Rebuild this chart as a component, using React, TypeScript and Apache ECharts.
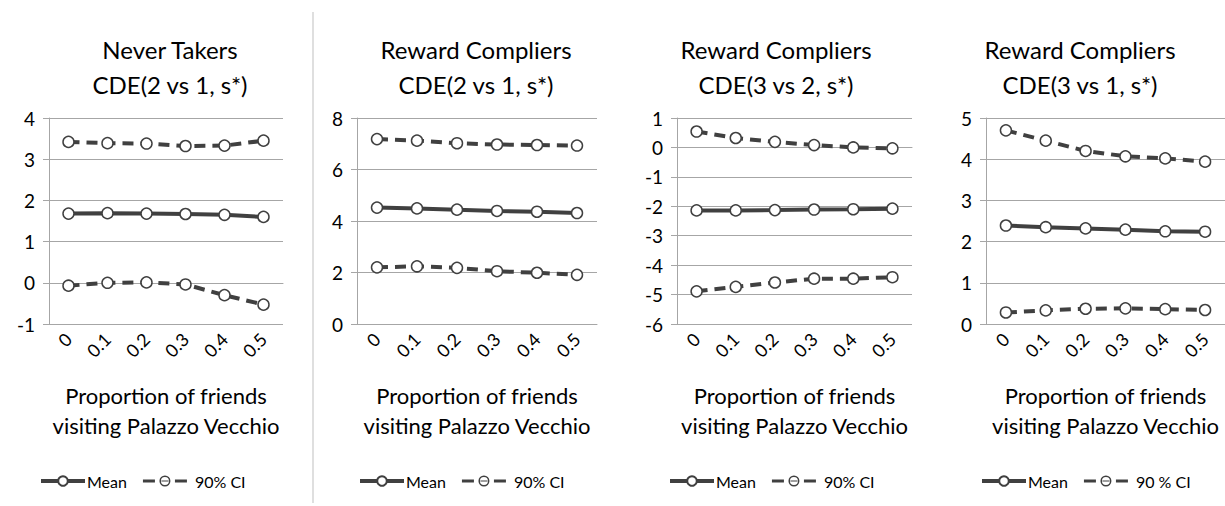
import React, { useEffect, useRef } from "react";
import * as echarts from "echarts";

const categories = ["0", "0.1", "0.2", "0.3", "0.4", "0.5"];

const titles = [
  "Never Takers\nCDE(2 vs 1, s*)",
  "Reward Compliers\nCDE(2 vs 1, s*)",
  "Reward Compliers\nCDE(3 vs 2, s*)",
  "Reward Compliers\nCDE(3 vs 1, s*)",
];

const meanNT21 = [1.68, 1.69, 1.68, 1.67, 1.65, 1.6];
const lowerNT21 = [-0.07, 0.0, 0.01, -0.04, -0.3, -0.53];
const upperNT21 = [3.42, 3.39, 3.38, 3.32, 3.33, 3.45];

const meanRC21 = [4.52, 4.49, 4.44, 4.39, 4.36, 4.31];
const lowerRC21 = [2.2, 2.24, 2.18, 2.05, 1.99, 1.91];
const upperRC21 = [7.18, 7.12, 7.02, 6.97, 6.95, 6.93];

const meanRC32 = [-2.14, -2.14, -2.13, -2.11, -2.1, -2.08];
const lowerRC32 = [-4.89, -4.74, -4.59, -4.46, -4.46, -4.41];
const upperRC32 = [0.54, 0.32, 0.19, 0.08, 0.0, -0.03];

const meanRC31 = [2.39, 2.35, 2.32, 2.29, 2.25, 2.24];
const lowerRC31 = [0.28, 0.33, 0.37, 0.38, 0.36, 0.34];
const upperRC31 = [4.7, 4.45, 4.2, 4.07, 4.02, 3.94];

const yMins = [-1, 0, -6, 0];
const yMaxs = [4, 8, 1, 5];
const yIntervals = [1, 2, 1, 1];

const ciNames = ["90% CI", "90% CI", "90% CI", "90 % CI"];
const meanName = "Mean";

const panelData = [
  [meanNT21, lowerNT21, upperNT21],
  [meanRC21, lowerRC21, upperRC21],
  [meanRC32, lowerRC32, upperRC32],
  [meanRC31, lowerRC31, upperRC31],
];

const FONT = "Lato";
const LINE = "#404040";
const GRID = "#a6a6a6";

// dashed legend icon: dash, ring with bar, dash (44 x 12 box)
const CI_ICON =
  "path://M0 0h0.01v0.01H0z M44 12h-0.01v-0.01H44z " +
  "M0 4.5h12v3H0z M32 4.5h12v3H32z " +
  "M27.5 6A5.5 5.5 0 1 0 16.5 6A5.5 5.5 0 1 0 27.5 6Z M26 6A4 4 0 1 1 18 6A4 4 0 1 1 26 6Z " +
  "M18.5 5.4h7v1.2h-7z";

// layout (pixels)
const gridLefts = [49, 357, 677, 986];
const gridWidths = [234, 240, 235, 239];
const titleCenters = [165, 471, 771, 1075];
const legendLefts = [34, 353, 663, 975];

export default function App() {
  const ref = useRef<HTMLDivElement>(null);
  useEffect(() => {
    if (!ref.current) return;
    const chart = echarts.init(ref.current, undefined, { renderer: "svg" });

    const grids: any[] = [];
    const xAxes: any[] = [];
    const yAxes: any[] = [];
    const series: any[] = [];
    const titleArr: any[] = [];
    const legends: any[] = [];

    for (let i = 0; i < 4; i++) {
      grids.push({ left: gridLefts[i], width: gridWidths[i], top: 118, height: 206 });
      xAxes.push({
        type: "category",
        gridIndex: i,
        data: categories,
        boundaryGap: true,
        axisLine: { show: true, lineStyle: { color: GRID, width: 1 } },
        axisTick: { show: false },
        axisLabel: { rotate: 45, fontSize: 18, color: "#000", fontFamily: FONT, margin: 12 },
        name: "Proportion of friends\nvisiting Palazzo Vecchio",
        nameLocation: "middle",
        nameGap: 56,
        nameTextStyle: { fontSize: 22, lineHeight: 30, color: "#000", fontFamily: FONT },
      });
      yAxes.push({
        type: "value",
        gridIndex: i,
        min: yMins[i],
        max: yMaxs[i],
        interval: yIntervals[i],
        axisLine: { show: true, lineStyle: { color: GRID, width: 1 } },
        axisTick: { show: true, length: 6, lineStyle: { color: GRID } },
        splitLine: { show: true, lineStyle: { color: GRID, width: 1 } },
        axisLabel: { fontSize: 19, color: "#000", fontFamily: FONT, margin: 14 },
      });
      titleArr.push({
        text: titles[i],
        left: titleCenters[i],
        textAlign: "center",
        top: 27,
        textStyle: { fontSize: 24, lineHeight: 35, fontWeight: "normal", color: "#000", fontFamily: FONT },
      });
      const [m, lo, up] = panelData[i];
      const common = {
        type: "line",
        xAxisIndex: i,
        yAxisIndex: i,
        symbol: "circle",
        symbolSize: 11,
        itemStyle: { color: "#fff", borderColor: LINE, borderWidth: 1.5 },
        emphasis: { disabled: true },
      };
      series.push({
        ...common,
        name: meanName,
        data: m,
        lineStyle: { color: LINE, width: 4 },
        z: 3,
      });
      series.push({
        ...common,
        name: ciNames[i],
        data: lo,
        lineStyle: { color: LINE, width: 4, type: [11, 7] },
      });
      series.push({
        ...common,
        name: ciNames[i],
        data: up,
        lineStyle: { color: LINE, width: 4, type: [11, 7] },
      });
      legends.push({
        left: legendLefts[i],
        top: 468,
        itemWidth: 44,
        itemHeight: 12,
        itemGap: 16,
        data: [
          {
            name: meanName,
            lineStyle: { width: 4, type: "solid" },
            textStyle: { padding: [0, 0, 0, -3] },
          },
          {
            name: ciNames[i],
            icon: CI_ICON,
            itemStyle: { color: LINE, borderWidth: 0, borderColor: "transparent" },
            textStyle: { padding: [0, 0, 0, 3] },
          },
        ],
        textStyle: { fontSize: 16, color: "#000", fontFamily: FONT },
        selectedMode: false,
      });
    }

    chart.setOption({
      animation: false,
      backgroundColor: "#fff",
      title: titleArr,
      grid: grids,
      xAxis: xAxes,
      yAxis: yAxes,
      series,
      legend: legends,
      graphic: [
        {
          type: "line",
          shape: { x1: 313, y1: 12, x2: 313, y2: 503 },
          style: { stroke: "#bfbfbf", lineWidth: 1 },
        },
      ],
    });
    return () => chart.dispose();
  }, []);
  return (
    <div
      ref={ref}
      style={{ position: "fixed", left: 0, top: 0, width: 1225, height: 506, background: "#fff" }}
    />
  );
}
